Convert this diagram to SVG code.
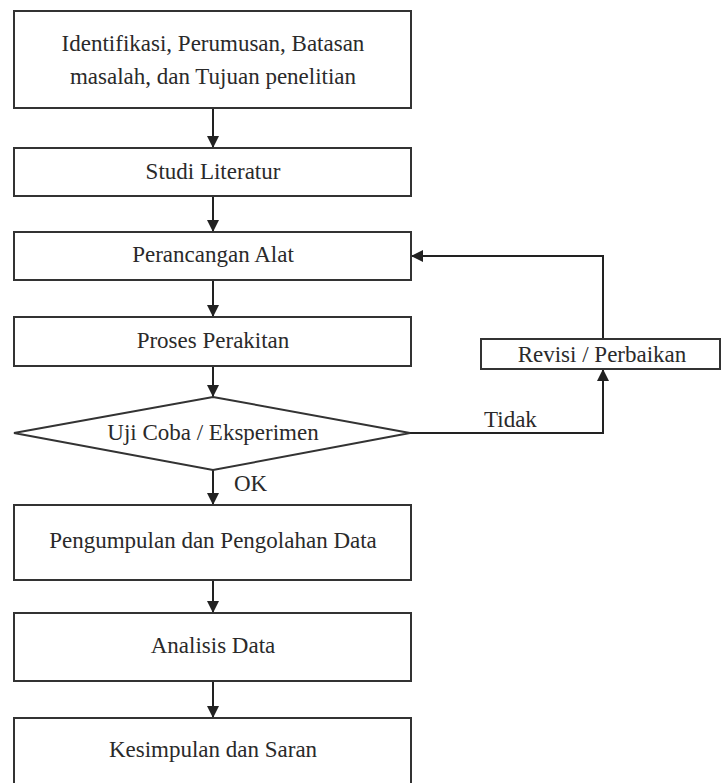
<svg xmlns="http://www.w3.org/2000/svg" width="721" height="783" viewBox="0 0 721 783">
<defs>
<style>
.n{fill:#fff;stroke:#333;stroke-width:2}
.t{font-family:"Liberation Serif","Times New Roman",serif;font-size:23px;fill:#2a2a2a;text-anchor:middle}
.l{font-family:"Liberation Serif","Times New Roman",serif;font-size:23px;fill:#2a2a2a}
.c{fill:none;stroke:#222;stroke-width:2}
</style>
<marker id="a" viewBox="0 0 10 10" refX="10" refY="5" markerWidth="6" markerHeight="6" markerUnits="strokeWidth" orient="auto">
<path d="M0,0 L10,5 L0,10 z" fill="#222"/>
</marker>
</defs>
<rect width="721" height="783" fill="#fff"/>
<g id="connectors">
<line class="c" x1="213" y1="108" x2="213" y2="148" marker-end="url(#a)"/>
<line class="c" x1="213" y1="196" x2="213" y2="232" marker-end="url(#a)"/>
<line class="c" x1="213" y1="280" x2="213" y2="317" marker-end="url(#a)"/>
<line class="c" x1="213" y1="366" x2="213" y2="397" marker-end="url(#a)"/>
<line class="c" x1="213" y1="470" x2="213" y2="505" marker-end="url(#a)"/>
<line class="c" x1="213" y1="580" x2="213" y2="613" marker-end="url(#a)"/>
<line class="c" x1="213" y1="681" x2="213" y2="718" marker-end="url(#a)"/>
<polyline class="c" points="410,433 603,433 603,369" marker-end="url(#a)"/>
<polyline class="c" points="603,339 603,256 411,256" marker-end="url(#a)"/>
<text class="l" x="484" y="427">Tidak</text>
<text class="l" x="234" y="491">OK</text>
</g>
<g id="n1"><rect class="n" x="14" y="11" width="397" height="97"/><text class="t" x="213" y="51">Identifikasi, Perumusan, Batasan</text><text class="t" x="213" y="84">masalah, dan Tujuan penelitian</text></g>
<g id="n2"><rect class="n" x="14" y="148" width="397" height="48"/><text class="t" x="213" y="179">Studi Literatur</text></g>
<g id="n3"><rect class="n" x="14" y="232" width="397" height="48"/><text class="t" x="213" y="262">Perancangan Alat</text></g>
<g id="n4"><rect class="n" x="14" y="317" width="397" height="49"/><text class="t" x="213" y="348">Proses Perakitan</text></g>
<g id="n5"><polygon class="n" points="213,397 410,433 213,470 14,433"/><text class="t" x="213" y="440">Uji Coba / Eksperimen</text></g>
<g id="n6"><rect class="n" x="481" y="339" width="239" height="30"/><text class="t" x="602" y="362">Revisi / Perbaikan</text></g>
<g id="n7"><rect class="n" x="14" y="505" width="397" height="75"/><text class="t" x="213" y="548">Pengumpulan dan Pengolahan Data</text></g>
<g id="n8"><rect class="n" x="14" y="613" width="397" height="68"/><text class="t" x="213" y="653">Analisis Data</text></g>
<g id="n9"><rect class="n" x="14" y="718" width="397" height="80"/><text class="t" x="213" y="757">Kesimpulan dan Saran</text></g>
</svg>
